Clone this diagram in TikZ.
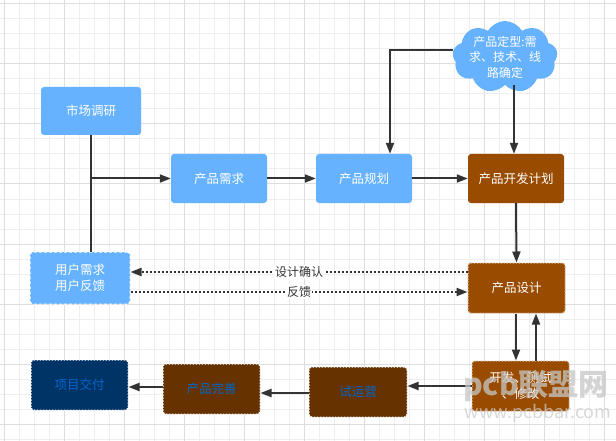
\documentclass[tikz,border=0pt]{standalone}
\usepackage{fontspec}
\setmainfont{Noto Sans CJK SC}
\usetikzlibrary{arrows.meta,shapes.symbols,calc}
\definecolor{lblue}{HTML}{66B2FF}
\definecolor{brownA}{HTML}{994C00}
\definecolor{brownB}{HTML}{663300}
\definecolor{navyA}{HTML}{003366}
\definecolor{txtblue}{HTML}{0066CC}
\definecolor{lnc}{HTML}{333333}
\definecolor{gminor}{HTML}{EEEEEE}
\definecolor{gmajor}{HTML}{DEDEDE}
\begin{document}
\begin{tikzpicture}[x=1pt,y=-1pt,
  box/.style={rectangle, rounded corners=3pt, inner sep=0pt, minimum width=97pt, minimum height=50pt,
    font=\fontsize{12.5}{16}\selectfont, align=center},
  bluebox/.style={box, fill=lblue, text=white},
  brownbox/.style={box, fill=brownA, text=white},
  dotbrd/.style={draw=white, line width=1pt, dash pattern=on 1.5pt off 1.5pt},
  darkbox/.style={box, text=txtblue, dotbrd},
  conn/.style={draw=lnc, line width=2pt, -{Triangle[length=11pt,width=8pt]}},
  plain/.style={draw=lnc, line width=2pt},
  dotconn/.style={draw=lnc, line width=2pt, dash pattern=on 2pt off 2pt, -{Triangle[length=11pt,width=8pt]}},
  lbl/.style={fill=white, inner sep=1pt, text=lnc, font=\fontsize{12}{14}\selectfont}
]
\useasboundingbox (0,0) rectangle (616,441);
\fill[white] (0,0) rectangle (616,441);
\foreach \x in {4,19,...,616} \draw[gminor, line width=1pt] (\x,0) -- (\x,441);
\foreach \y in {4,19,...,441} \draw[gminor, line width=1pt] (0,\y) -- (616,\y);
\foreach \x in {4,64,...,616} \draw[gmajor, line width=1pt] (\x,0) -- (\x,441);
\foreach \y in {4,64,...,441} \draw[gmajor, line width=1pt] (0,\y) -- (616,\y);

% nodes
\node[bluebox, minimum width=100pt, minimum height=48pt] (sc) at (91,111) {市场调研};
\node[bluebox, minimum width=96pt, minimum height=49pt] (xq) at (219,178.5) {产品需求};
\node[bluebox, minimum width=96pt, minimum height=49pt] (gh) at (364,178.5) {产品规划};
\node[brownbox, minimum width=96pt, minimum height=49pt] (kf) at (516,178.5) {产品开发计划};
\node[cloud, cloud puffs=9, cloud puff arc=120, aspect=1.45, fill=lblue, inner sep=0pt,
  minimum width=105pt, minimum height=72pt] (cl) at (505,57) {};
\node[text=white, align=center, font=\fontsize{12}{15.5}\selectfont] (cltxt) at (505,57) {产品定型:需\\求、技术、线\\路确定};
\node[bluebox, minimum width=100pt, minimum height=52pt, draw=white, line width=1pt, dash pattern=on 3pt off 2pt] (yh) at (80,278) {用户需求\\用户反馈};
\node[brownbox, dotbrd, draw=white!60!brownA] (sj) at (516.5,288) {产品设计};
\node[brownbox, dotbrd, draw=white!60!brownA] (ks) at (520.5,386) {开发、测试\\、修改};
\node[darkbox, fill=brownB, minimum width=98pt] (sy) at (358,392) {试运营};
\node[darkbox, fill=brownB] (ws) at (211.5,389) {产品完善};
\node[darkbox, fill=navyA] (jf) at (79.5,385) {项目交付};

% connectors
\draw[plain] (sc.south) -- (sc.south |- yh.north);
\draw[conn] (sc.south |- xq.west) -- (xq.west);
\draw[conn] (xq.east) -- (gh.west);
\draw[conn] (gh.east) -- (kf.west);
\coordinate (bend) at (390,50);
\draw[conn] (cl.west |- bend) -- (bend) -- (bend |- gh.north);
\draw[conn] (cl.south -| 514,0) -- (kf.north -| 514,0);
\draw[conn] (kf.south) -- (sj.north);
\draw[conn] (sj.south -| 516,0) -- (ks.north -| 516,0);
\draw[conn] (ks.north -| 536,0) -- (sj.south -| 536,0);
\draw[dotconn] (sj.west |- 0,272) -- node[lbl]{设计确认} (yh.east |- 0,272);
\draw[dotconn] (yh.east |- 0,292) -- node[lbl]{反馈} (sj.west |- 0,292);
\draw[conn] (ks.west |- 0,386) -- (sy.east |- 0,386);
\draw[conn] (sy.west |- 0,393) -- (ws.east |- 0,393);
\draw[conn] (ws.west |- 0,387) -- (jf.east |- 0,387);

% watermark
\node[text=gray!45, opacity=0.75, font=\bfseries\fontsize{30}{30}\selectfont, inner sep=0pt] (wm1) at (536,386) {pcb联盟网};
\node[text=gray!40, opacity=0.75, font=\fontsize{18}{18}\selectfont, inner sep=0pt] (wm2) at (538,413) {www.pcbbar.com};
\end{tikzpicture}
\end{document}
